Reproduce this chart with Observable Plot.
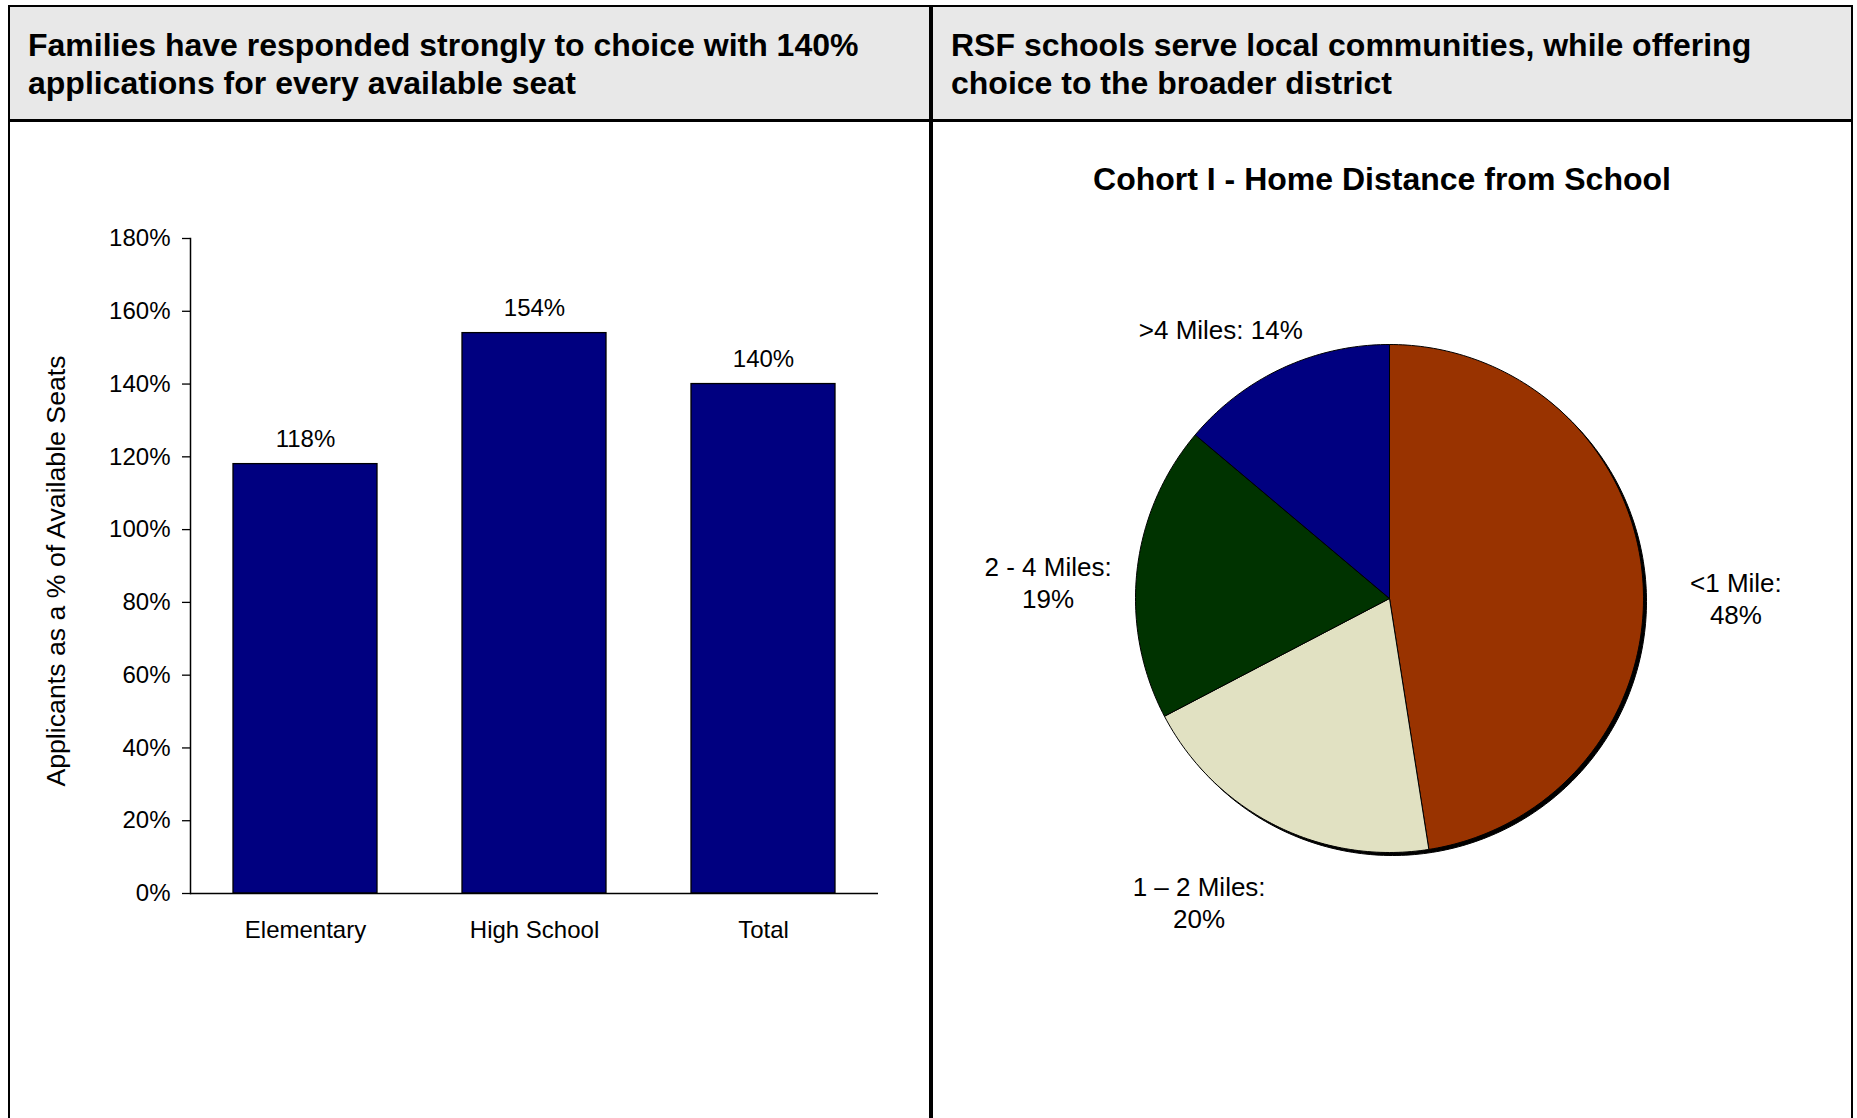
<!DOCTYPE html>
<html>
<head>
<meta charset="utf-8">
<script src="https://cdn.jsdelivr.net/npm/d3@7"></script>
<script src="https://cdn.jsdelivr.net/npm/@observablehq/plot@0.6"></script>
<style>
  html, body { margin: 0; padding: 0; background: #ffffff; }
  body { font-family: "Liberation Sans", Arial, Helvetica, sans-serif; color: #000; }
  #page { position: relative; width: 1857px; height: 1118px; overflow: hidden; background: #fff; }
  .line { position: absolute; background: #000; }
  .hdr { position: absolute; background: #e8e8e8; }
  .title { position: absolute; font-weight: bold; font-size: 32px; line-height: 38px; white-space: nowrap; }
  .plot { position: absolute; }
  #pieTitle { position: absolute; font-weight: bold; font-size: 32px; line-height: 36px; text-align: center; white-space: nowrap; }
  #yLabel { position: absolute; left: 56px; top: 571px; font-size: 26.7px; line-height: 30px; white-space: nowrap;
            transform: translate(-50%, -50%) rotate(-90deg); transform-origin: 50% 50%; }
</style>
</head>
<body>
<div id="page">
  <div class="hdr" style="left:10px; top:7px; width:1841px; height:112px;"></div>
  <div class="line" style="left:8px; top:5px; width:1845px; height:2px;"></div>
  <div class="line" style="left:8px; top:5px; width:2px; height:1113px;"></div>
  <div class="line" style="left:1851px; top:5px; width:2px; height:1113px;"></div>
  <div class="line" style="left:929px; top:5px; width:4px; height:1113px;"></div>
  <div class="line" style="left:8px; top:119px; width:1845px; height:3px;"></div>
  <div class="title" id="leftTitle" style="left:28px; top:26px;"></div>
  <div class="title" id="rightTitle" style="left:951px; top:26px;"></div>
  <div id="pieTitle" style="left:933px; top:161px; width:898px;"></div>
  <div class="plot" id="barPlot" style="left:10px; top:122px;"></div>
  <div class="plot" id="piePlot" style="left:933px; top:122px;"></div>
  <div id="yLabel"></div>
</div>
<script>
// ---------- Data ----------
const leftTitleLines = ["Families have responded strongly to choice with 140%", "applications for every available seat"];
const rightTitleLines = ["RSF schools serve local communities, while offering", "choice to the broader district"];

const barCategories = ["Elementary", "High School", "Total"];
const barValues = [118, 154, 140];
const yTickValues = [0, 20, 40, 60, 80, 100, 120, 140, 160, 180];
const yAxisLabel = "Applicants as a % of Available Seats";

const pieTitle = "Cohort I - Home Distance from School";
const pieCategories = ["<1 Mile", "1 \u2013 2 Miles", "2 - 4 Miles", ">4 Miles"];
const pieValues = [48, 20, 19, 14];

// ---------- Styles / layout ----------
const barColor = "#000080";
const pieColors = ["#993300", "#E1E1C2", "#003300", "#000080"];
const fontFamily = '"Liberation Sans", Arial, Helvetica, sans-serif';
// label layout: whether the value goes on a second line, and a small nudge (px)
const pieLabelLayout = {
  "<1 Mile": {breakLine: true, dx: 2, dy: 26},
  "1 \u2013 2 Miles": {breakLine: true, dx: -35, dy: -5},
  "2 - 4 Miles": {breakLine: true, dx: 2, dy: 21},
  ">4 Miles": {breakLine: false, dx: -23, dy: 44}
};

document.getElementById("leftTitle").innerHTML = leftTitleLines.join("<br>");
document.getElementById("rightTitle").innerHTML = rightTitleLines.join("<br>");
document.getElementById("pieTitle").textContent = pieTitle;
document.getElementById("yLabel").textContent = yAxisLabel;

// ---------- Bar chart ----------
const barData = barCategories.map((c, i) => ({category: c, value: barValues[i]}));

const barPlot = Plot.plot({
  width: 918,
  height: 990,
  marginLeft: 180,
  marginRight: 50,
  marginTop: 116,
  marginBottom: 219,
  style: {fontFamily, fontSize: "24px", color: "#000", background: "transparent", overflow: "visible"},
  x: {type: "band", domain: barCategories, paddingInner: 0.37, paddingOuter: 0.185, label: null},
  y: {domain: [0, 180], label: null},
  marks: [
    Plot.barY(barData, {x: "category", y: "value", fill: barColor, stroke: "#000", strokeWidth: 1.3}),
    Plot.text(barData, {x: "category", y: "value", text: d => d.value + "%", dy: -25, fontSize: 24, fill: "#000"}),
    Plot.axisY({ticks: yTickValues, tickFormat: d => d + "%", tickSize: 8, tickPadding: 12, fontSize: 24, label: null, stroke: "#000", strokeWidth: 1.3}),
    Plot.axisX({tickSize: 0, tickPadding: 27, fontSize: 24, label: null}),
    Plot.frame({anchor: "left", stroke: "#000", strokeWidth: 1.5}),
    Plot.ruleY([0], {stroke: "#000", strokeWidth: 1.5})
  ]
});
document.getElementById("barPlot").appendChild(barPlot);

// ---------- Pie chart ----------
const total = d3.sum(pieValues);
let cum = 0;
const slices = pieCategories.map((c, i) => {
  const a0 = cum / total * 2 * Math.PI;
  cum += pieValues[i];
  const a1 = cum / total * 2 * Math.PI;
  return {category: c, value: pieValues[i], a0, a1, mid: (a0 + a1) / 2};
});

const slicePoints = [];
for (const s of slices) {
  const n = Math.max(2, Math.ceil((s.a1 - s.a0) / (2 * Math.PI) * 360));
  slicePoints.push({category: s.category, x: 0, y: 0});
  for (let k = 0; k <= n; k++) {
    const a = s.a0 + (s.a1 - s.a0) * k / n;
    slicePoints.push({category: s.category, x: Math.sin(a), y: Math.cos(a)});
  }
  slicePoints.push({category: s.category, x: 0, y: 0});
}
const circlePoints = d3.range(0, 361).map(deg => ({x: Math.sin(deg * Math.PI / 180), y: Math.cos(deg * Math.PI / 180)}));

const labelRadius = 1.36;
const labelData = slices.map(s => {
  const L = pieLabelLayout[s.category];
  return {
    x: labelRadius * Math.sin(s.mid),
    y: labelRadius * Math.cos(s.mid),
    text: s.category + ":" + (L.breakLine ? "\n" : " ") + s.value + "%",
    dx: L.dx, dy: L.dy
  };
});

const piePlot = Plot.plot({
  width: 918,
  height: 990,
  marginLeft: 202,
  marginRight: 208,
  marginTop: 222,
  marginBottom: 260,
  style: {fontFamily, fontSize: "26px", color: "#000", background: "transparent", overflow: "visible"},
  x: {domain: [-1, 1], axis: null},
  y: {domain: [-1, 1], axis: null},
  color: {domain: pieCategories, range: pieColors},
  marks: [
    Plot.line(circlePoints, {x: "x", y: "y", fill: "#000", stroke: "#000", strokeWidth: 1, dx: 3, dy: 3}),
    Plot.line(slicePoints, {x: "x", y: "y", z: "category", fill: "category", stroke: "#000", strokeWidth: 1}),
    ...labelData.map(d => Plot.text([d], {x: "x", y: "y", text: "text", dx: d.dx, dy: d.dy, fontSize: 26, lineHeight: 1.22, fill: "#000"}))
  ]
});
document.getElementById("piePlot").appendChild(piePlot);
</script>
</body>
</html>
